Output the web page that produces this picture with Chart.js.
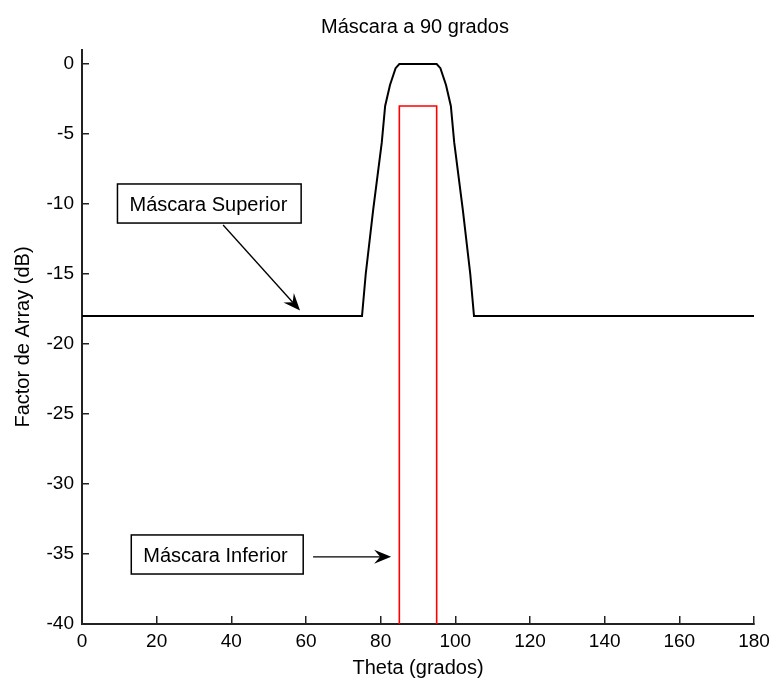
<!DOCTYPE html>
<html>
<head>
<meta charset="utf-8">
<title>Máscara a 90 grados</title>
<script src="https://cdn.jsdelivr.net/npm/chart.js@4.4.2/dist/chart.umd.min.js"></script>
<style>
  html, body { margin: 0; padding: 0; background: #fff; }
  canvas { display: block; }
</style>
</head>
<body>
<canvas id="chart" width="774" height="683"></canvas>
<script>
// ── Data ───────────────────────────────────────────────────────
// upper mask (black)
const upperTheta = [0, 75, 76, 78, 80.3, 81.2, 82.5, 84, 85, 95, 96, 97.5, 98.8, 99.7, 102, 104, 105, 180];
const upperDb    = [-18, -18, -15, -10.4, -5.6, -3, -1.5, -0.3, 0, 0, -0.3, -1.5, -3, -5.6, -10.4, -15, -18, -18];
// lower mask (red)
const lowerTheta = [85, 85, 95, 95];
const lowerDb    = [-40, -3, -3, -40];

const xTicks = [0, 20, 40, 60, 80, 100, 120, 140, 160, 180];
const yTicks = [-40, -35, -30, -25, -20, -15, -10, -5, 0];

const titleText = 'Máscara a 90 grados';
const xLabel = 'Theta (grados)';
const yLabel = 'Factor de Array (dB)';

// text boxes with arrows, in data coordinates
const notes = [
  { text: 'Máscara Superior', box: [9.5, -8.57, 58.7, -11.36], from: [37.8, -11.5], to: [58.4, -17.6] },
  { text: 'Máscara Inferior', box: [13.2, -33.64, 59.25, -36.43], from: [61.9, -35.2], to: [82.8, -35.2] },
];

const FONT = '"Liberation Sans", Arial, Helvetica, sans-serif';
Chart.defaults.font.family = FONT;
Chart.defaults.color = '#000';

const toPoints = (xs, ys) => xs.map((x, i) => ({ x, y: ys[i] }));

function drawArrow(ctx, x1, y1, x2, y2) {
  const ang = Math.atan2(y2 - y1, x2 - x1);
  const len = 17, half = 7, notch = 11;
  ctx.beginPath();
  ctx.moveTo(x1, y1);
  ctx.lineTo(x2 - Math.cos(ang) * notch, y2 - Math.sin(ang) * notch);
  ctx.stroke();
  const bx = x2 - Math.cos(ang) * len, by = y2 - Math.sin(ang) * len;
  const nx = -Math.sin(ang) * half, ny = Math.cos(ang) * half;
  ctx.beginPath();
  ctx.moveTo(x2, y2);
  ctx.lineTo(bx + nx, by + ny);
  ctx.lineTo(x2 - Math.cos(ang) * notch, y2 - Math.sin(ang) * notch);
  ctx.lineTo(bx - nx, by - ny);
  ctx.closePath();
  ctx.fill();
}

const annotationPlugin = {
  id: 'notes',
  afterDraw(chart) {
    const { ctx, scales: { x, y } } = chart;
    ctx.save();
    // title, centred over the plot
    ctx.fillStyle = '#000';
    ctx.font = '20px ' + FONT;
    ctx.textAlign = 'center';
    ctx.textBaseline = 'middle';
    ctx.fillText(titleText, 415, 27);

    notes.forEach(n => {
      const l = x.getPixelForValue(n.box[0]), r = x.getPixelForValue(n.box[2]);
      const t = y.getPixelForValue(n.box[1]), b = y.getPixelForValue(n.box[3]);
      ctx.fillStyle = '#fff';
      ctx.fillRect(l, t, r - l, b - t);
      ctx.strokeStyle = '#000';
      ctx.lineWidth = 1.5;
      ctx.strokeRect(l, t, r - l, b - t);
      ctx.fillStyle = '#000';
      ctx.textAlign = 'left';
      ctx.fillText(n.text, l + 12, (t + b) / 2 + 2);
      ctx.lineWidth = 1.3;
      drawArrow(ctx,
        x.getPixelForValue(n.from[0]), y.getPixelForValue(n.from[1]),
        x.getPixelForValue(n.to[0]), y.getPixelForValue(n.to[1]));
    });
    ctx.restore();
  }
};

new Chart(document.getElementById('chart'), {
  type: 'scatter',
  data: {
    datasets: [
      {
        label: 'Máscara Superior',
        data: toPoints(upperTheta, upperDb),
        showLine: true,
        borderColor: '#000',
        borderWidth: 2,
        pointRadius: 0,
        tension: 0,
      },
      {
        label: 'Máscara Inferior',
        data: toPoints(lowerTheta, lowerDb),
        showLine: true,
        borderColor: '#ff0000',
        borderWidth: 1.6,
        pointRadius: 0,
        tension: 0,
      },
    ],
  },
  options: {
    responsive: false,
    animation: false,
    devicePixelRatio: 1,
    layout: { padding: { top: 50, right: 20, left: 0, bottom: 0 } },
    plugins: {
      legend: { display: false },
      tooltip: { enabled: false },
      title: { display: false },
    },
    scales: {
      x: {
        type: 'linear',
        min: 0,
        max: 180,
        afterBuildTicks: s => { s.ticks = xTicks.map(v => ({ value: v })); },
        afterFit: s => { s.height = 59; s.paddingLeft = 0; s.paddingRight = 0; },
        grid: { drawOnChartArea: false, drawTicks: true, tickLength: -8, color: '#222', lineWidth: 1.5 },
        border: { color: '#222', width: 2 },
        ticks: { padding: 14, font: { size: 19 }, color: '#000', maxRotation: 0 },
        title: { display: true, text: xLabel, font: { size: 20 }, color: '#000', padding: { top: 0, bottom: 3 } },
      },
      y: {
        type: 'linear',
        min: -40,
        max: 1,
        afterBuildTicks: s => { s.ticks = yTicks.map(v => ({ value: v })); },
        afterFit: s => { s.width = 82; s.paddingTop = 0; s.paddingBottom = 0; },
        grid: { drawOnChartArea: false, drawTicks: true, tickLength: -7, color: '#222', lineWidth: 1.5 },
        border: { color: '#222', width: 2 },
        ticks: { padding: 15, font: { size: 19 }, color: '#000' },
        title: { display: true, text: yLabel, font: { size: 20 }, color: '#000', padding: { top: 11, bottom: 0 } },
      },
    },
  },
  plugins: [annotationPlugin],
});
</script>
</body>
</html>
